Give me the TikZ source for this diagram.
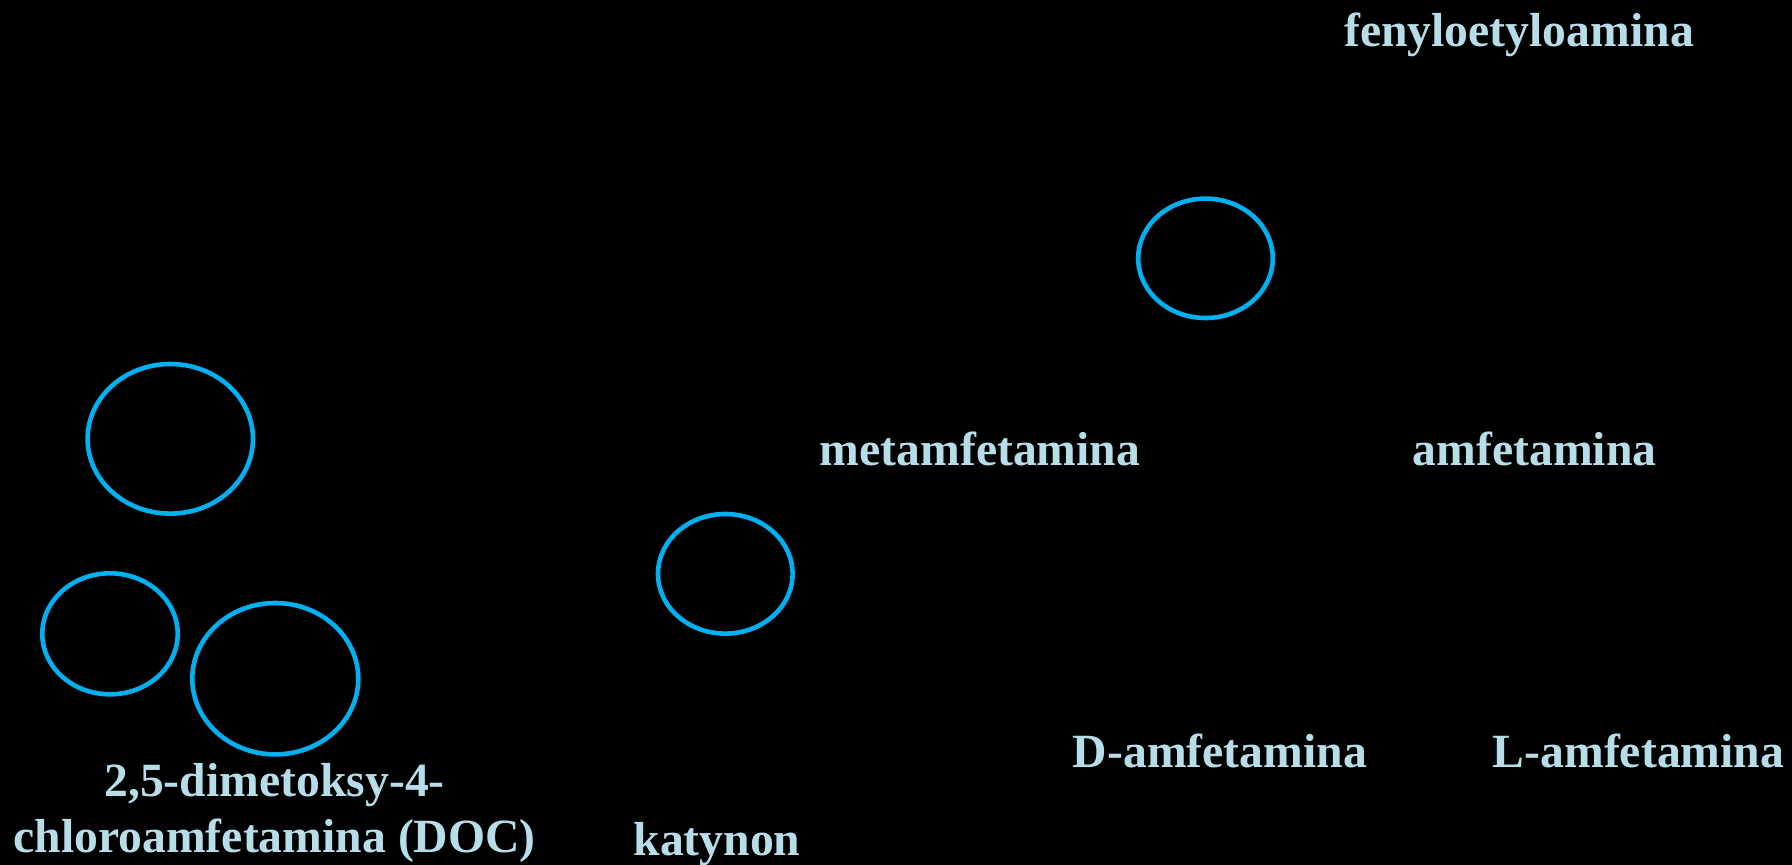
\documentclass[tikz,border=0pt]{standalone}
\usepackage{fontspec}
\setmainfont{Liberation Serif}
\definecolor{ringblue}{HTML}{00B0F0}
\definecolor{labelblue}{HTML}{B7DEE8}
\tikzset{
  ring/.style={draw=ringblue, line width=4.6pt},
  label/.style={text=labelblue, font=\bfseries\fontsize{47.7}{55}\selectfont,
                inner sep=0pt, anchor=base},
}
\begin{document}
\begin{tikzpicture}[x=1pt, y=-1pt]
  % canvas
  \fill[black] (0,0) rectangle (1792,865);
  \useasboundingbox (0,0) rectangle (1792,865);

  % rings
  \draw[ring] (1205.5,258.3) ellipse [x radius=67.3, y radius=59.7];
  \draw[ring] (170.3,438.8) ellipse [x radius=82.7, y radius=74.8];
  \draw[ring] (110,633.8) ellipse [x radius=67.7, y radius=60.5];
  \draw[ring] (275.3,678.7) ellipse [x radius=83, y radius=75.7];
  \draw[ring] (725.3,573.8) ellipse [x radius=67.3, y radius=59.8];

  % labels
  \node[label] (fen) at (1519,46) {fenyloetyloamina};
  \node[label] (meta) at (980,465) {metamfetamina};
  \node[label] (amf) at (1534.5,465) {amfetamina};
  \node[label] (damf) at (1220,767) {D-amfetamina};
  \node[label] (lamf) at (1638.5,767) {L-amfetamina};
  \node[label] (kat) at (717,855) {katynon};
  \node[label] (doc1) at (274.6,796) {2,5-dimetoksy-4-};
  \node[label] (doc2) at (274.6,852) {chloroamfetamina (DOC)};
\end{tikzpicture}
\end{document}
